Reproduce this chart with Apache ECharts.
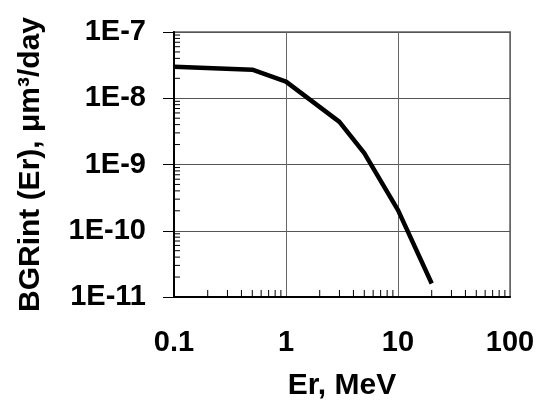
<!DOCTYPE html>
<html>
<head>
<meta charset="utf-8">
<script src="https://cdn.jsdelivr.net/npm/echarts@6/dist/echarts.min.js"></script>
<style>
    html, body { margin: 0; padding: 0; background: #fff; }
    #chart1 { width: 540px; height: 415px; }
</style>
</head>
<body>
<div id="chart1"></div>
<script>
    // Er, MeV
    var erValues = [0.1, 0.5, 1, 3, 5, 10, 20];
    // BGRint (Er), um3/day
    var bgValues = [3.0e-8, 2.7e-8, 1.78e-8, 4.4e-9, 1.48e-9, 2.05e-10, 1.6e-11];
    var xTickLabels = ['0.1', '1', '10', '100'];
    var yTickLabels = ['1E-11', '1E-10', '1E-9', '1E-8', '1E-7'];

    var xMin = 0.1, xMax = 100, yMin = 1e-11, yMax = 1e-7;
    var font = '"Liberation Sans", Arial, sans-serif';

    // minor tick positions 2..9 in every decade
    var minorX = [], minorY = [];
    for (var d = xMin; d < xMax * 0.99; d *= 10) {
        for (var k = 2; k <= 9; k++) minorX.push(+(d * k).toPrecision(3));
    }
    for (var e = yMin; e < yMax * 0.99; e *= 10) {
        for (var k2 = 2; k2 <= 9; k2++) minorY.push(+(e * k2).toPrecision(3));
    }

    var chart = echarts.init(document.getElementById('chart1'));
    var option = {
        animation: false,
        grid: {
            left: 174,
            right: 30,
            top: 32,
            bottom: 118,
            show: true,
            borderColor: '#888',
            borderWidth: 2,
            backgroundColor: '#fff'
        },
        xAxis: {
            type: 'log',
            logBase: 10,
            min: xMin,
            max: xMax,
            name: 'Er, MeV',
            nameLocation: 'middle',
            nameGap: 74,
            nameTextStyle: { fontFamily: font, fontWeight: 'bold', fontSize: 30, color: '#000' },
            axisLine: { lineStyle: { color: '#000', width: 2 } },
            axisTick: { show: false },
            axisLabel: {
                margin: 31,
                fontFamily: font, fontWeight: 'bold', fontSize: 29, color: '#000',
                formatter: function (v) {
                    var i = Math.round(Math.log10(v) - Math.log10(xMin));
                    return xTickLabels[i] || '';
                }
            },
            splitLine: { show: true, lineStyle: { color: '#666', width: 1 } },
            minorTick: { show: false }
        },
        yAxis: {
            type: 'log',
            logBase: 10,
            min: yMin,
            max: yMax,
            name: 'BGRint (Er), μm³/day',
            nameLocation: 'middle',
            nameGap: 128,
            nameTextStyle: { fontFamily: font, fontWeight: 'bold', fontSize: 30, color: '#000' },
            axisLine: { show: true, lineStyle: { color: '#000', width: 2 } },
            axisTick: { show: true, inside: false, length: 11, lineStyle: { color: '#000', width: 1 } },
            axisLabel: {
                margin: 28,
                fontFamily: font, fontWeight: 'bold', fontSize: 29, color: '#000',
                formatter: function (v) {
                    var i = Math.round(Math.log10(v) - Math.log10(yMin));
                    return yTickLabels[i] || '';
                }
            },
            splitLine: { show: true, lineStyle: { color: '#555', width: 1 } }
        },
        series: [
            {
                type: 'custom',
                name: 'minorX',
                silent: true,
                z: 5,
                data: minorX.map(function (v) { return [v, yMin]; }),
                renderItem: function (params, api) {
                    var p = api.coord([api.value(0), api.value(1)]);
                    return {
                        type: 'line',
                        shape: { x1: p[0], y1: p[1], x2: p[0], y2: p[1] - 7 },
                        style: { stroke: '#000', lineWidth: 1 }
                    };
                }
            },
            {
                type: 'custom',
                name: 'minorY',
                silent: true,
                z: 5,
                data: minorY.map(function (v) { return [xMin, v]; }),
                renderItem: function (params, api) {
                    var p = api.coord([api.value(0), api.value(1)]);
                    return {
                        type: 'line',
                        shape: { x1: p[0], y1: p[1], x2: p[0] + 6, y2: p[1] },
                        style: { stroke: '#000', lineWidth: 1 }
                    };
                }
            },
            {
                type: 'line',
                name: 'BGRint',
                z: 10,
                showSymbol: false,
                symbol: 'none',
                lineStyle: { color: '#000', width: 4.5 },
                data: erValues.map(function (x, i) { return [x, bgValues[i]]; })
            }
        ]
    };
    chart.setOption(option);
</script>
</body>
</html>
